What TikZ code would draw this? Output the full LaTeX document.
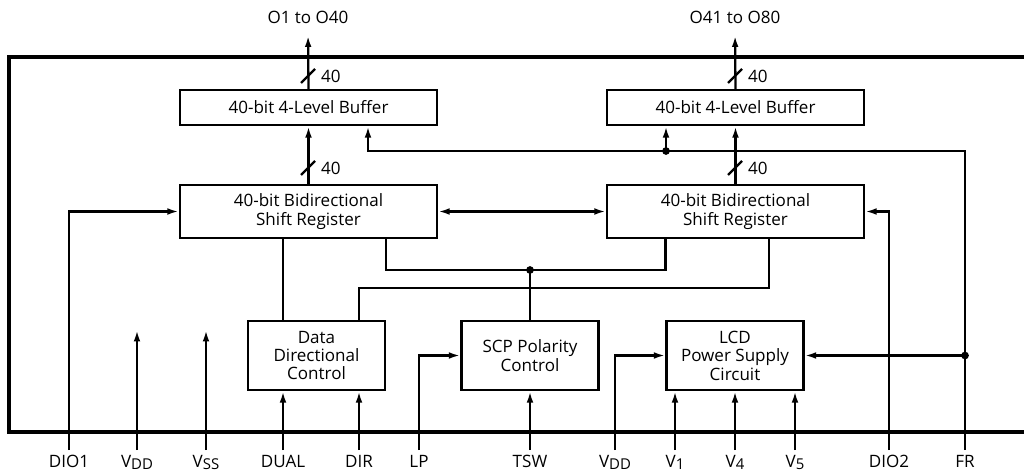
\documentclass[tikz,border=0pt]{standalone}
\usepackage{fontspec}
\setmainfont{Open Sans}
\usetikzlibrary{arrows.meta,calc,positioning}
\newcommand{\busmark}[2]{\begin{scope}[shift={#1}]
  \draw (-7,7) -- (7,-7);\node[anchor=west,inner sep=0pt] at (12,0) {#2};\end{scope}}
\newcommand{\pinsub}[1]{\raisebox{-0.25ex}{\fontsize{8.5}{9}\selectfont #1}}

\begin{document}
\begin{tikzpicture}[x=0.02cm,y=-0.02cm,>={Latex[length=6.5pt,width=3.8pt]},
  line width=1.3pt,font=\fontsize{9.7}{10.5}\selectfont,
  block/.style={draw,line width=1.3pt,align=center,inner sep=1pt},
  wide/.style={block,minimum width=5.14cm},
  small/.style={block,minimum width=2.74cm,minimum height=1.38cm},
  pinlbl/.style={anchor=north,inner sep=0pt,yshift=-2.5pt}]
\useasboundingbox (0,0) rectangle (1024,473);
% outer frame
\draw[line width=2.6pt] (1026,57) -- (9,57) -- (9,432) -- (1026,432);
% blocks
\node[wide,minimum height=0.7cm] (buf1) at (308.5,107.5) {40-bit 4-Level Buffer};
\node[wide,minimum height=0.7cm] (buf2) at (735.5,107.5) {40-bit 4-Level Buffer};
\node[wide,minimum height=1.06cm] (sr1) at (308.5,211.5) {40-bit Bidirectional\\Shift Register};
\node[wide,minimum height=1.06cm] (sr2) at (735.5,211.5) {40-bit Bidirectional\\Shift Register};
\node[small] (ddc) at (316.5,355.5) {Data\\Directional\\Control};
\node[small] (scp) at (530,355.5) {SCP Polarity\\Control};
\node[small] (lcd) at (735,355.5) {LCD\\Power Supply\\Circuit};
% outputs
\node (out1) at (308,17) {O1 to O40};
\node (out2) at (735,17) {O41 to O80};
\draw[->,shorten >=3pt] (buf1.north) -- (out1.south);
\draw[->,shorten >=3pt] (buf2.north) -- (out2.south);
\draw[->] (sr1.north) -- (buf1.south);
\draw[->] (sr2.north) -- (buf2.south);
\busmark{(308,76)}{40}
\busmark{(308,168)}{40}
\busmark{(735,76)}{40}
\busmark{(735,168)}{40}
\draw[<->] (sr1.east) -- (sr2.west);
% pins
\foreach \name/\x in {DIO1/69,VDDa/137,VSS/206,DUAL/283,DIR/359,LP/419,TSW/530,
  VDDb/615,Va/675,Vb/735,Vc/795,DIO2/889,FR/965}
  \coordinate (p\name) at (\x,450);
\node[pinlbl] at (pDIO1) {DIO1};
\node[pinlbl] at (pVDDa) {V\pinsub{DD}};
\node[pinlbl] at (pVSS) {V\pinsub{SS}};
\node[pinlbl] at (pDUAL) {DUAL};
\node[pinlbl] at (pDIR) {DIR};
\node[pinlbl] at (pLP) {LP};
\node[pinlbl] at (pTSW) {TSW};
\node[pinlbl] at (pVDDb) {V\pinsub{DD}};
\node[pinlbl] at (pVa) {V\pinsub{1}};
\node[pinlbl] at (pVb) {V\pinsub{4}};
\node[pinlbl] at (pVc) {V\pinsub{5}};
\node[pinlbl] at (pDIO2) {DIO2};
\node[pinlbl] at (pFR) {FR};
\coordinate (endA) at (137,330);
\coordinate (endB) at (206,330);
\draw[->] (pVDDa) -- (endA);
\draw[->] (pVSS) -- (endB);
\draw[->] (pDIO1) |- (sr1.west);
\draw[->] (pDIO2) |- (sr2.east);
\draw[->] (pDUAL) -- (pDUAL |- ddc.south);
\draw[->] (pDIR) -- (pDIR |- ddc.south);
\draw[->] (pLP) |- (scp.west);
\draw[->] (pTSW) -- (scp.south);
\draw[->] (pVDDb) |- (lcd.west);
\draw[->] (pVa) -- (pVa |- lcd.south);
\draw[->] (pVb) -- (lcd.south);
\draw[->] (pVc) -- (pVc |- lcd.south);
% FR feedback
\coordinate (f1) at (368,151);
\coordinate (j1) at (666,151);
\coordinate (j2) at (pFR |- lcd.east);
\draw[->] (pFR) |- (f1) -- (f1 |- buf1.south);
\draw[->] (j1) -- (j1 |- buf2.south);
\draw[->] (j2) -- (lcd.east);
\fill (j1) circle (2.2pt) (j2) circle (2.2pt);
% register links
\coordinate (j3) at (530,270);
\coordinate (t2) at (769,288);
\draw (pDUAL |- sr1.south) -- (pDUAL |- ddc.north);
\draw (ddc.north east |- sr1.south) |- (j3) -| (lcd.north west |- sr2.south);
\draw (j3) -- (scp.north);
\fill (j3) circle (2.2pt);
\draw (t2 |- sr2.south) -- (t2) -| (pDIR |- ddc.north);
\end{tikzpicture}
\end{document}
